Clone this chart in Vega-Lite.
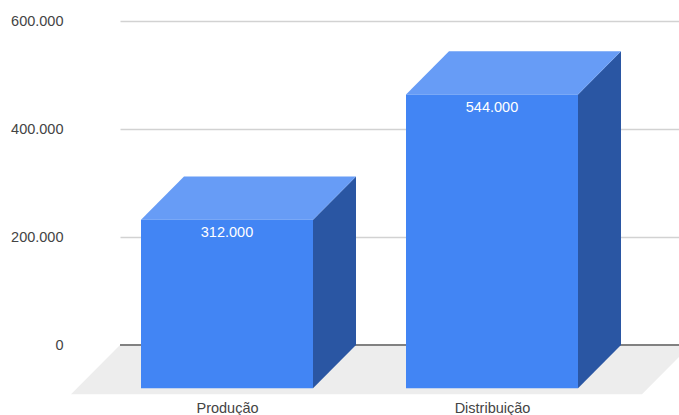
{
  "$schema": "https://vega.github.io/schema/vega-lite/v6.json",
  "width": 559,
  "height": 324,
  "autosize": {"type": "none"},
  "padding": {"left": 120, "top": 21, "right": 0, "bottom": 70},
  "background": "white",
  "config": {"view": {"stroke": null}, "font": "Liberation Sans"},
  "data": {"values": [
    {"category": "Produção", "value": 312000},
    {"category": "Distribuição", "value": 544000}
  ]},
  "transform": [
    {"calculate": "datum.category === 'Produção' ? 21 : 286", "as": "left"},
    {"calculate": "datum.left + 172", "as": "right"},
    {"calculate": "datum.left + 86", "as": "center"},
    {"calculate": "datum.value - 80000", "as": "frontTop"},
    {"calculate": "-80000", "as": "frontBase"},
    {"calculate": "replace(format(datum.value, ','), ',', '.')", "as": "label"}
  ],
  "layer": [
    {
      "data": {"values": [{"surface": "floor"}]},
      "transform": [
        {"calculate": "[-49, 0, 522, 559]", "as": "vx"},
        {"calculate": "[-91000, 0, 0, 0]", "as": "upper"},
        {"calculate": "[-91000, -91000, -91000, -22300]", "as": "lower"},
        {"flatten": ["vx", "upper", "lower"]}
      ],
      "mark": {"type": "area", "orient": "vertical", "color": "#ededed", "clip": false},
      "encoding": {
        "x": {
          "field": "vx",
          "type": "quantitative",
          "scale": {"domain": [0, 559], "nice": false, "zero": false},
          "axis": {
            "title": null,
            "values": [107, 372],
            "labelExpr": "datum.value === 107 ? 'Produção' : 'Distribuição'",
            "domain": false,
            "ticks": false,
            "grid": false,
            "labelFontSize": 14.5,
            "labelColor": "#444444",
            "labelPadding": 56,
            "labelFont": "Liberation Sans"
          }
        },
        "y": {
          "field": "upper",
          "type": "quantitative",
          "scale": {"domain": [0, 600000], "nice": false, "zero": false},
          "axis": {
            "title": null,
            "values": [0, 200000, 400000, 600000],
            "labelExpr": "replace(format(datum.value, ','), ',', '.')",
            "domain": false,
            "ticks": false,
            "grid": true,
            "gridColor": "#d2d2d2",
            "gridWidth": 1.3,
            "labelFontSize": 14.5,
            "labelColor": "#444444",
            "labelPadding": 57,
            "labelFont": "Liberation Sans"
          }
        },
        "y2": {"field": "lower"}
      }
    },
    {
      "mark": {"type": "rule", "color": "#7a7a7a", "strokeWidth": 1.5},
      "encoding": {
        "x": {"datum": 0, "type": "quantitative"},
        "x2": {"datum": 559},
        "y": {"datum": 0, "type": "quantitative"}
      }
    },
    {
      "transform": [
        {"calculate": "[datum.right, datum.right + 43]", "as": "vx"},
        {"calculate": "[datum.frontTop, datum.value]", "as": "upper"},
        {"calculate": "[datum.frontBase, 0]", "as": "lower"},
        {"flatten": ["vx", "upper", "lower"]}
      ],
      "mark": {"type": "area", "orient": "vertical", "color": "#2a56a3"},
      "encoding": {
        "x": {"field": "vx", "type": "quantitative"},
        "y": {"field": "upper", "type": "quantitative"},
        "y2": {"field": "lower"},
        "detail": {"field": "category"}
      }
    },
    {
      "transform": [
        {"calculate": "[datum.left, datum.left + 43, datum.right, datum.right + 43]", "as": "vx"},
        {"calculate": "[datum.frontTop, datum.value, datum.value, datum.value]", "as": "upper"},
        {"calculate": "[datum.frontTop, datum.frontTop, datum.frontTop, datum.value]", "as": "lower"},
        {"flatten": ["vx", "upper", "lower"]}
      ],
      "mark": {"type": "area", "orient": "vertical", "color": "#679cf6"},
      "encoding": {
        "x": {"field": "vx", "type": "quantitative"},
        "y": {"field": "upper", "type": "quantitative"},
        "y2": {"field": "lower"},
        "detail": {"field": "category"}
      }
    },
    {
      "mark": {"type": "rect", "color": "#4285f4"},
      "encoding": {
        "x": {"field": "left", "type": "quantitative"},
        "x2": {"field": "right"},
        "y": {"field": "frontTop", "type": "quantitative"},
        "y2": {"field": "frontBase"}
      }
    },
    {
      "mark": {"type": "text", "color": "white", "fontSize": 14.5, "dy": 13.5, "baseline": "middle", "align": "center", "font": "Liberation Sans"},
      "encoding": {
        "x": {"field": "center", "type": "quantitative"},
        "y": {"field": "frontTop", "type": "quantitative"},
        "text": {"field": "label", "type": "nominal"}
      }
    }
  ]
}
